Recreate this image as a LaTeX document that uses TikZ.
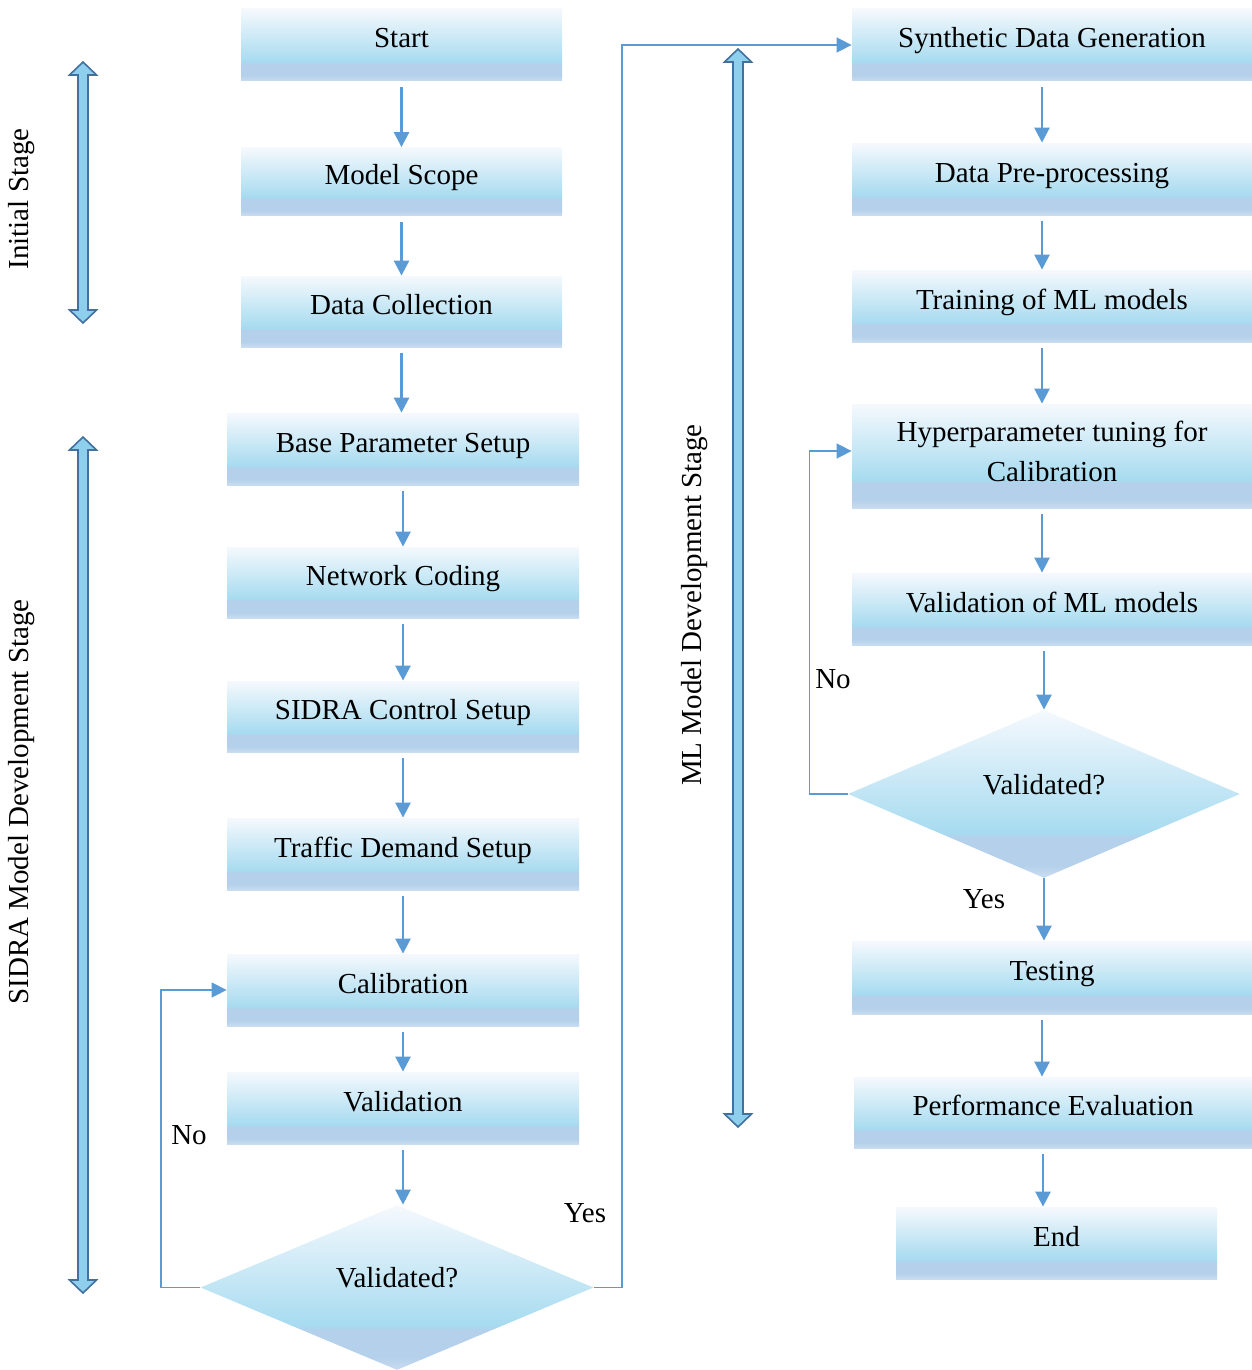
\documentclass[tikz,border=0pt]{standalone}
\usepackage{fontspec}
\setmainfont{Liberation Serif}
\usepackage{tikz}
\usetikzlibrary{arrows.meta}
\usetikzlibrary{shapes.geometric}

\definecolor{shTop}{HTML}{F5F9FD}
\definecolor{shSky}{HTML}{A7DBF0}
\definecolor{shBand}{HTML}{B4D0EA}
\definecolor{shLow}{HTML}{C9DCF0}
\definecolor{flowblue}{HTML}{5B9BD5}
\definecolor{barfill}{HTML}{8DCFEC}
\definecolor{barline}{HTML}{41719C}
\pgfdeclareverticalshading{boxshade}{100bp}{color(0bp)=(shLow); color(25bp)=(shLow);
  color(29bp)=(shBand); color(37bp)=(shBand); color(38.5bp)=(shSky);
  color(75bp)=(shTop); color(100bp)=(shTop)}

\tikzset{
  every node/.style={font=\fontsize{14.5}{17.5}\selectfont},
  box/.style={rectangle,shading=boxshade,inner sep=0pt,
    text height=10pt,text depth=7pt},
  boxtwo/.style={rectangle,shading=boxshade,inner sep=0pt,align=center},
  decide/.style={diamond,shading=boxshade,inner sep=0pt,aspect=2.4,
    text height=10pt,text depth=10pt},
  flow/.style={draw=flowblue,line width=1.3pt,shorten <=3pt,
    -{Triangle[width=7.5pt,length=7.5pt]}},
  loopline/.style={draw=flowblue,line width=0.8pt,
    -{Triangle[width=7.5pt,length=7.5pt]}},
  stagebar/.style={draw=barline,fill=barfill,line width=0.8pt,line join=miter}
}
\newcommand{\stagebar}[3]{%
  \draw[stagebar] (#1-5,#2+13) -- (#1-13.5,#2+13) -- (#1,#2) -- (#1+13.5,#2+13)
    -- (#1+5,#2+13) -- (#1+5,#3-13) -- (#1+13.5,#3-13) -- (#1,#3)
    -- (#1-13.5,#3-13) -- (#1-5,#3-13) -- cycle;}

\begin{document}
\begin{tikzpicture}[x=0.5pt,y=-0.5pt]
        \useasboundingbox (0,0) rectangle (1252,1370);
        \node[box,minimum width=160.5pt,minimum height=36pt] (start) at (401.5,45) {Start};
        \node[box,minimum width=160.5pt,minimum height=34pt] (scope) at (401.5,181.5) {Model Scope};
        \node[box,minimum width=160.5pt,minimum height=35.5pt] (collect) at (401.5,311.5) {Data Collection};
        \node[box,minimum width=176pt,minimum height=36pt] (base) at (403,449) {Base Parameter Setup};
        \node[box,minimum width=176pt,minimum height=35.5pt] (coding) at (403,582.5) {Network Coding};
        \node[box,minimum width=176pt,minimum height=35.5pt] (control) at (403,716.5) {SIDRA Control Setup};
        \node[box,minimum width=176pt,minimum height=36pt] (demand) at (403,854) {Traffic Demand Setup};
        \node[box,minimum width=176pt,minimum height=36pt] (calib) at (403,990) {Calibration};
        \node[box,minimum width=176pt,minimum height=36pt] (valid) at (403,1108) {Validation};
        \node[decide,minimum width=196.5pt,minimum height=82.5pt] (check) at (397,1287.5) {Validated?};

        \node[box,minimum width=200pt,minimum height=36pt] (synth) at (1052,45) {Synthetic Data Generation};
        \node[box,minimum width=200pt,minimum height=36pt] (prep) at (1052,179) {Data Pre-processing};
        \node[box,minimum width=200pt,minimum height=36pt] (train) at (1052,306) {Training of ML models};
        \node[boxtwo,minimum width=200pt,minimum height=52pt] (hyper) at (1052,456) {Hyperparameter tuning for\\[2.5pt]Calibration\rule[-5pt]{0pt}{5pt}};
        \node[box,minimum width=200pt,minimum height=36pt] (vml) at (1052,609) {Validation of ML models};
        \node[decide,minimum width=196pt,minimum height=84pt] (mlcheck) at (1044,794) {Validated?};
        \node[box,minimum width=200pt,minimum height=36.5pt] (test) at (1052,977.5) {Testing};
        \node[box,minimum width=199pt,minimum height=35.5pt] (perf) at (1053,1112.5) {Performance Evaluation};
        \node[box,minimum width=160.5pt,minimum height=36pt] (finish) at (1056.5,1243) {End};

        \foreach \a/\b in {start/scope, scope/collect, collect/base, base/coding,
          coding/control, control/demand, demand/calib, calib/valid} {
          \draw[flow] (\a.south) -- (\a.south |- \b.north);
        }
        \draw[flow] (valid.south) -- (valid.south |- check.north);
        \foreach \a/\b in {synth/prep, prep/train, train/hyper, hyper/vml, test/perf, perf/finish} {
          \draw[flow] ([xshift=-5pt]\a.south) -- ([xshift=-5pt]\a.south |- \b.north);
        }
        \draw[flow] (mlcheck.north |- vml.south) -- (mlcheck.north);
        \draw[flow,shorten <=0pt] (mlcheck.south) -- (mlcheck.south |- test.north);

        \draw[loopline] (check.west) -- ++(-39,0) |- (calib.west);
        \draw[loopline] (check.east) -- ++(28,0) |- (synth.west);
        \draw[loopline] (mlcheck.west) -- ++(-38,0) |- ([yshift=2.5pt]hyper.west);

        \node (noa) at (189,1135) {No};
        \node (yesa) at (585,1213) {Yes};
        \node (nob) at (833,679) {No};
        \node (yesb) at (984,899) {Yes};

        \stagebar{83}{62}{323}
        \stagebar{83}{437}{1293}
        \stagebar{738}{49}{1127}
        \node[rotate=90] (initlab) at (22,199) {Initial Stage};
        \node[rotate=90] (sidralab) at (22,802) {SIDRA Model Development Stage};
        \node[rotate=90] (mllab) at (695,605) {ML Model Development Stage};
        \end{tikzpicture}
\end{document}
